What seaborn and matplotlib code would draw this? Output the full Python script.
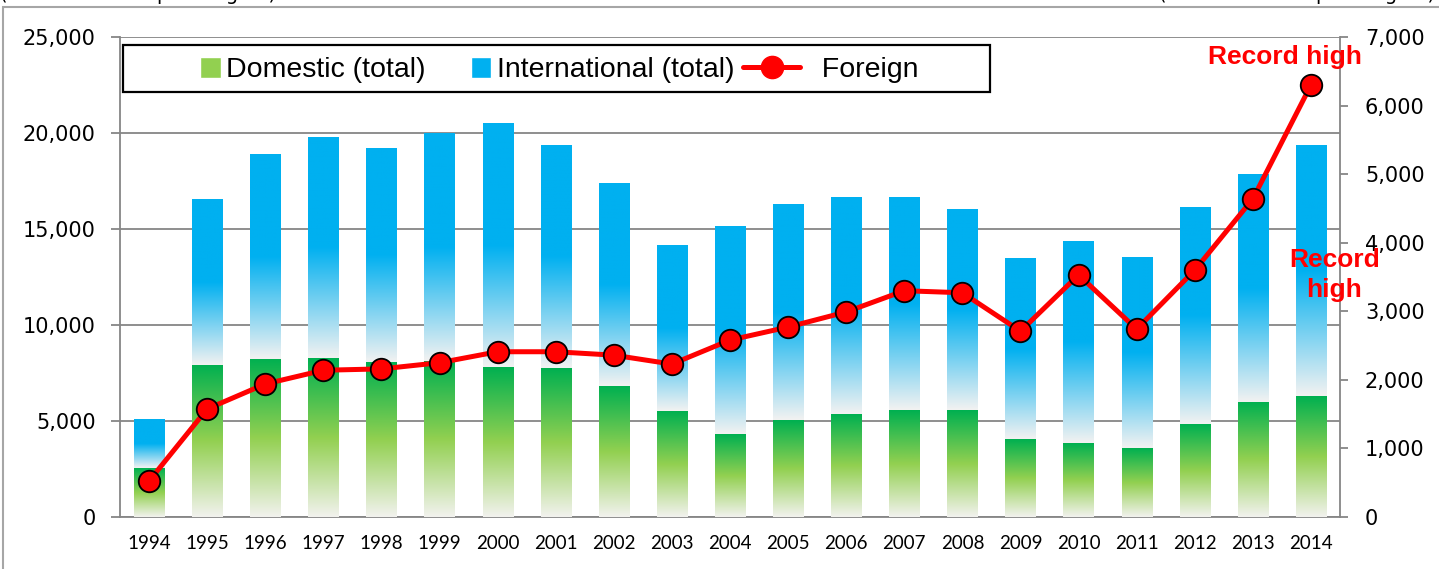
import numpy as np
import matplotlib
matplotlib.use("Agg")
import matplotlib.pyplot as plt
import seaborn as sns
from matplotlib.colors import LinearSegmentedColormap
from matplotlib.patches import Rectangle, Patch
from matplotlib.lines import Line2D
from matplotlib.legend_handler import HandlerPatch
from matplotlib.ticker import FuncFormatter, MultipleLocator

# ---- data ----
years = [str(y) for y in range(1994, 2015)]
domestic = [2550, 7920, 8230, 8280, 8050, 8120, 7800, 7760, 6800, 5520, 4320,
            5050, 5360, 5570, 5570, 4060, 3850, 3590, 4840, 5990, 6300]
international = [2550, 8630, 10670, 11520, 11150, 11860, 12700, 11640, 10600, 8630, 10830,
                 11230, 11290, 11080, 10480, 9420, 10550, 9950, 11310, 11860, 13080]
foreign = [525, 1575, 1940, 2140, 2160, 2250, 2410, 2410, 2360, 2230, 2580,
           2770, 2990, 3300, 3270, 2710, 3530, 2740, 3600, 4640, 6300]
total = [d + i for d, i in zip(domestic, international)]

GRID = "#868686"
W, H = 1439, 569

sns.set_theme(style="white")
plt.rcParams["font.family"] = ["DejaVu Sans"]
plt.rcParams["text.color"] = "black"
plt.rcParams["xtick.labelcolor"] = "black"
plt.rcParams["ytick.labelcolor"] = "black"

fig = plt.figure(figsize=(W / 100, H / 100), dpi=100)
ax = fig.add_axes([120 / W, 52 / H, 1220 / W, 480 / H])

# bars: totals first (blue), domestic over it (green)
sns.barplot(x=years, y=total, ax=ax, width=0.52, color="#00B0F0")
sns.barplot(x=years, y=domestic, ax=ax, width=0.52, color="#92D050")
n = len(years)
blue_bars = ax.patches[:n]
green_bars = ax.patches[n:2 * n]

green_cmap = LinearSegmentedColormap.from_list(
    "g", [(0, "#F2F2EE"), (0.5, "#92D050"), (1, "#00B050")])
blue_cmap = LinearSegmentedColormap.from_list(
    "b", [(0, "#F2F2F2"), (0.5, "#00B0F0"), (1, "#00B0F0")])
grad = np.linspace(0, 1, 256).reshape(-1, 1)


def fill_gradient(patch, y0, y1, cmap, z):
    patch.set_facecolor("none")
    patch.set_edgecolor("none")
    x0 = patch.get_x()
    x1 = x0 + patch.get_width()
    im = ax.imshow(grad, extent=[x0, x1, y0, y1], origin="lower",
                   aspect="auto", cmap=cmap, zorder=z)
    im.set_clip_path(patch)


for p, d, t in zip(blue_bars, domestic, total):
    fill_gradient(p, d, t, blue_cmap, 2)
for p, d in zip(green_bars, domestic):
    fill_gradient(p, 0, d, green_cmap, 3)

ax.set_xlim(-0.5, n - 0.5)
ax.set_ylim(0, 25000)
ax.yaxis.set_major_locator(MultipleLocator(5000))
ax.yaxis.set_major_formatter(FuncFormatter(lambda v, _: f"{v:,.0f}"))
ax.set_axisbelow(True)
ax.grid(axis="y", color=GRID, lw=1.3)
ax.grid(axis="x", visible=False)
ax.set_xlabel("")
ax.set_ylabel("")

ax.set_xticks(range(n))
ax.set_xticklabels(years, fontfamily="Lato", fontsize=13.5)
ax.set_xticks(np.arange(-0.5, n, 1), minor=True)
ax.tick_params(axis="x", which="major", length=0, pad=13)
ax.tick_params(axis="x", which="minor", length=5, width=1.3, color=GRID, direction="out")
ax.tick_params(axis="y", length=6.5, width=1.3, color=GRID, direction="out",
               labelsize=15, pad=11, left=True)
for s in ["left", "bottom"]:
    ax.spines[s].set_color(GRID)
    ax.spines[s].set_linewidth(1.3)
ax.spines["top"].set_visible(False)
ax.spines["right"].set_visible(False)

# foreign visitors on right axis
ax2 = ax.twinx()
sns.lineplot(x=np.arange(n), y=foreign, ax=ax2, color="#FF0000", lw=3.6,
             marker="o", markersize=15.5, markerfacecolor="#FF0000",
             markeredgecolor="black", markeredgewidth=1.3)
ax2.set_ylim(0, 7000)
ax2.set_xlim(-0.5, n - 0.5)
ax2.yaxis.set_major_locator(MultipleLocator(1000))
ax2.yaxis.set_major_formatter(FuncFormatter(lambda v, _: f"{v:,.0f}"))
ax2.tick_params(axis="y", length=6, width=1.3, color=GRID, direction="out",
                labelsize=15, pad=12, right=True)
ax2.grid(False)
for s in ["left", "top", "bottom"]:
    ax2.spines[s].set_visible(False)
ax2.spines["right"].set_color(GRID)
ax2.spines["right"].set_linewidth(1.3)

ax2.text(19.55, 6710, "Record high", color="#FF0000", fontsize=19,
         fontweight="bold", fontfamily="Liberation Sans", ha="center", va="center")
ax2.text(20.4, 3530, "Record\nhigh", color="#FF0000", fontsize=19,
         fontweight="bold", fontfamily="Liberation Sans", ha="center", va="center",
         linespacing=1.3)


# legend inside a fixed box
def square(legend, orig_handle, xdescent, ydescent, width, height, fontsize):
    s = 15
    return Rectangle((width - s - xdescent, -ydescent + (height - s) / 2), s, s)


handles = [Patch(facecolor="#92D050"), Patch(facecolor="#00B0F0"),
           Line2D([], [], color="#FF0000", lw=3.6, marker="o", markersize=16,
                  markerfacecolor="#FF0000", markeredgecolor="#FF0000")]
labels = ["Domestic (total)", "International (total)", "  Foreign"]
box = Rectangle((123 / W, 1 - 92 / H), 867 / W, 47 / H, transform=fig.transFigure,
                facecolor="white", edgecolor="black", lw=1.6, zorder=4.9, clip_on=False)
ax2.add_patch(box)
leg = ax2.legend(handles, labels, ncol=3, loc="center",
                 bbox_to_anchor=(541 / W, 1 - 70 / H), bbox_transform=fig.transFigure,
                 frameon=False, handlelength=2.0, handleheight=0.75, handletextpad=0.2,
                 columnspacing=0.3, prop={"family": "Liberation Sans", "size": 20.5},
                 handler_map={Patch: HandlerPatch(patch_func=square)})
leg.set_zorder(6)

# clipped unit captions and outer frame
fig.text(0.0, 1 - 0.5 / H, "(Unit: thousand passengers)", fontsize=14, va="baseline", ha="left")
fig.text(1435 / W, 1 - 0.5 / H, "(Unit: thousand passengers)", fontsize=14, va="baseline", ha="right")
fig.add_artist(Rectangle((3 / W, -0.1), 1.2, 1.1 - 7 / H, transform=fig.transFigure,
                         fill=False, edgecolor="#A6A6A6", lw=1.5))

fig.savefig("out.png", dpi=100)
